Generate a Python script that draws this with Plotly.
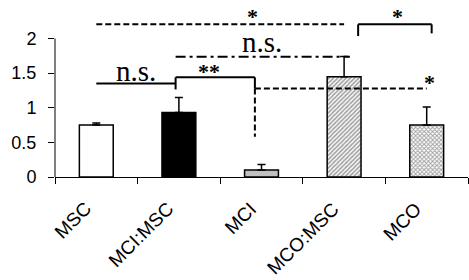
import plotly.graph_objects as go

categories = ["MSC", "MCI:MSC", "MCI", "MCO:MSC", "MCO"]
values = [0.75, 0.93, 0.10, 1.45, 0.75]
errors = [0.03, 0.22, 0.08, 0.29, 0.26]
y_ticks = [0, 0.5, 1, 1.5, 2]
y_tick_labels = ["0", "0.5", "1", "1.5", "2"]

fills = ["white", "black", "#c0c0c0", "white", "white"]
shapes_pat = ["", "", "", "/", "x"]

positions = list(range(len(categories)))
boundaries = [p - 0.5 for p in positions] + [positions[-1] + 0.5]

fig = go.Figure()
fig.add_trace(go.Bar(
    x=positions, y=values,
    marker=dict(
        color=fills,
        line=dict(color="black", width=1.5),
        pattern=dict(shape=shapes_pat, fgcolor="black", bgcolor="white",
                     size=3, solidity=0.55, fillmode="overlay"),
    ),
    error_y=dict(type="data", symmetric=False, array=errors,
                 arrayminus=[0] * len(errors), color="black", thickness=1.5, width=4),
    width=0.41,
))

line_solid = dict(color="black", width=2)
line_dash = dict(color="black", width=2, dash="6px,3px")
line_dashdot = dict(color="black", width=2, dash="10px,4px,3px,4px")

def seg(x0, y0, x1, y1, line):
    fig.add_shape(type="line", xref="x", yref="y", x0=x0, y0=y0, x1=x1, y1=y1, line=line)

# y-axis line only to 2
fig.add_shape(type="line", xref="paper", yref="y", x0=0, x1=0, y0=0, y1=2,
              line=dict(color="black", width=1))

# comparisons
seg(0, 2.205, 3.0, 2.205, line_dash)                 # MSC vs MCO:MSC
seg(3.17, 2.036, 3.17, 2.205, line_solid)            # MCO:MSC vs MCO bracket
seg(3.17, 2.205, 4.06, 2.205, line_solid)
seg(4.06, 2.205, 4.06, 2.075, line_solid)
seg(0.96, 1.737, 3.07, 1.737, line_dashdot)          # MCI:MSC vs MCO:MSC
seg(0, 1.352, 0.96, 1.352, line_solid)               # MSC vs MCI:MSC
seg(0.96, 1.265, 0.96, 1.44, line_solid)
seg(0.96, 1.44, 1.92, 1.44, line_solid)              # MCI:MSC vs MCI
seg(1.92, 1.44, 1.92, 1.28, line_solid)
seg(1.92, 1.28, 1.92, 0.58, line_dash)               # MCI vs MCO
seg(1.92, 1.28, 4.0, 1.28, line_dash)

serif = "Liberation Serif"
def txt(x, y, s, size):
    fig.add_annotation(x=x, y=y, xref="x", yref="y", text=s, showarrow=False,
                       font=dict(family=serif, size=size, color="black"))

txt(0.485, 1.53, "n.s.", 29)
txt(2.0, 1.95, "n.s.", 29)
txt(1.37, 1.52, "<b>**</b>", 22)
txt(1.895, 2.32, "<b>*</b>", 22)
txt(3.65, 2.32, "<b>*</b>", 22)
txt(4.03, 1.37, "<b>*</b>", 22)

# category labels, rotated 45 degrees
for p, name in zip(positions, categories):
    fig.add_annotation(x=p, y=0, xref="x", yref="paper", text=name, showarrow=False,
                       textangle=-45, xanchor="right", yanchor="top",
                       xshift=0, yshift=-20, borderpad=0,
                       font=dict(family="Liberation Sans", size=19, color="black"))

fig.update_layout(
    width=469, height=280,
    margin=dict(l=54.5, r=0.5, t=0, b=103.3),
    paper_bgcolor="white", plot_bgcolor="white",
    showlegend=False,
    bargap=0.59,
    font=dict(family="Liberation Sans", size=14, color="black"),
    xaxis=dict(
        range=[-0.5, 4.5], tickvals=boundaries, showticklabels=False,
        showline=True, linecolor="black", linewidth=1,
        ticks="outside", ticklen=6, tickcolor="black",
        showgrid=False, zeroline=False,
    ),
    yaxis=dict(
        range=[0, 2.557], tickvals=y_ticks, ticktext=y_tick_labels,
        showline=False, ticks="outside", ticklen=6, tickcolor="black",
        ticklabelstandoff=8,
        tickfont=dict(family="Liberation Sans", size=18, color="black"),
        showgrid=False, zeroline=False,
    ),
)

fig.write_html("out.html", config={"displayModeBar": False},
               post_script="document.body.style.margin='0';")
